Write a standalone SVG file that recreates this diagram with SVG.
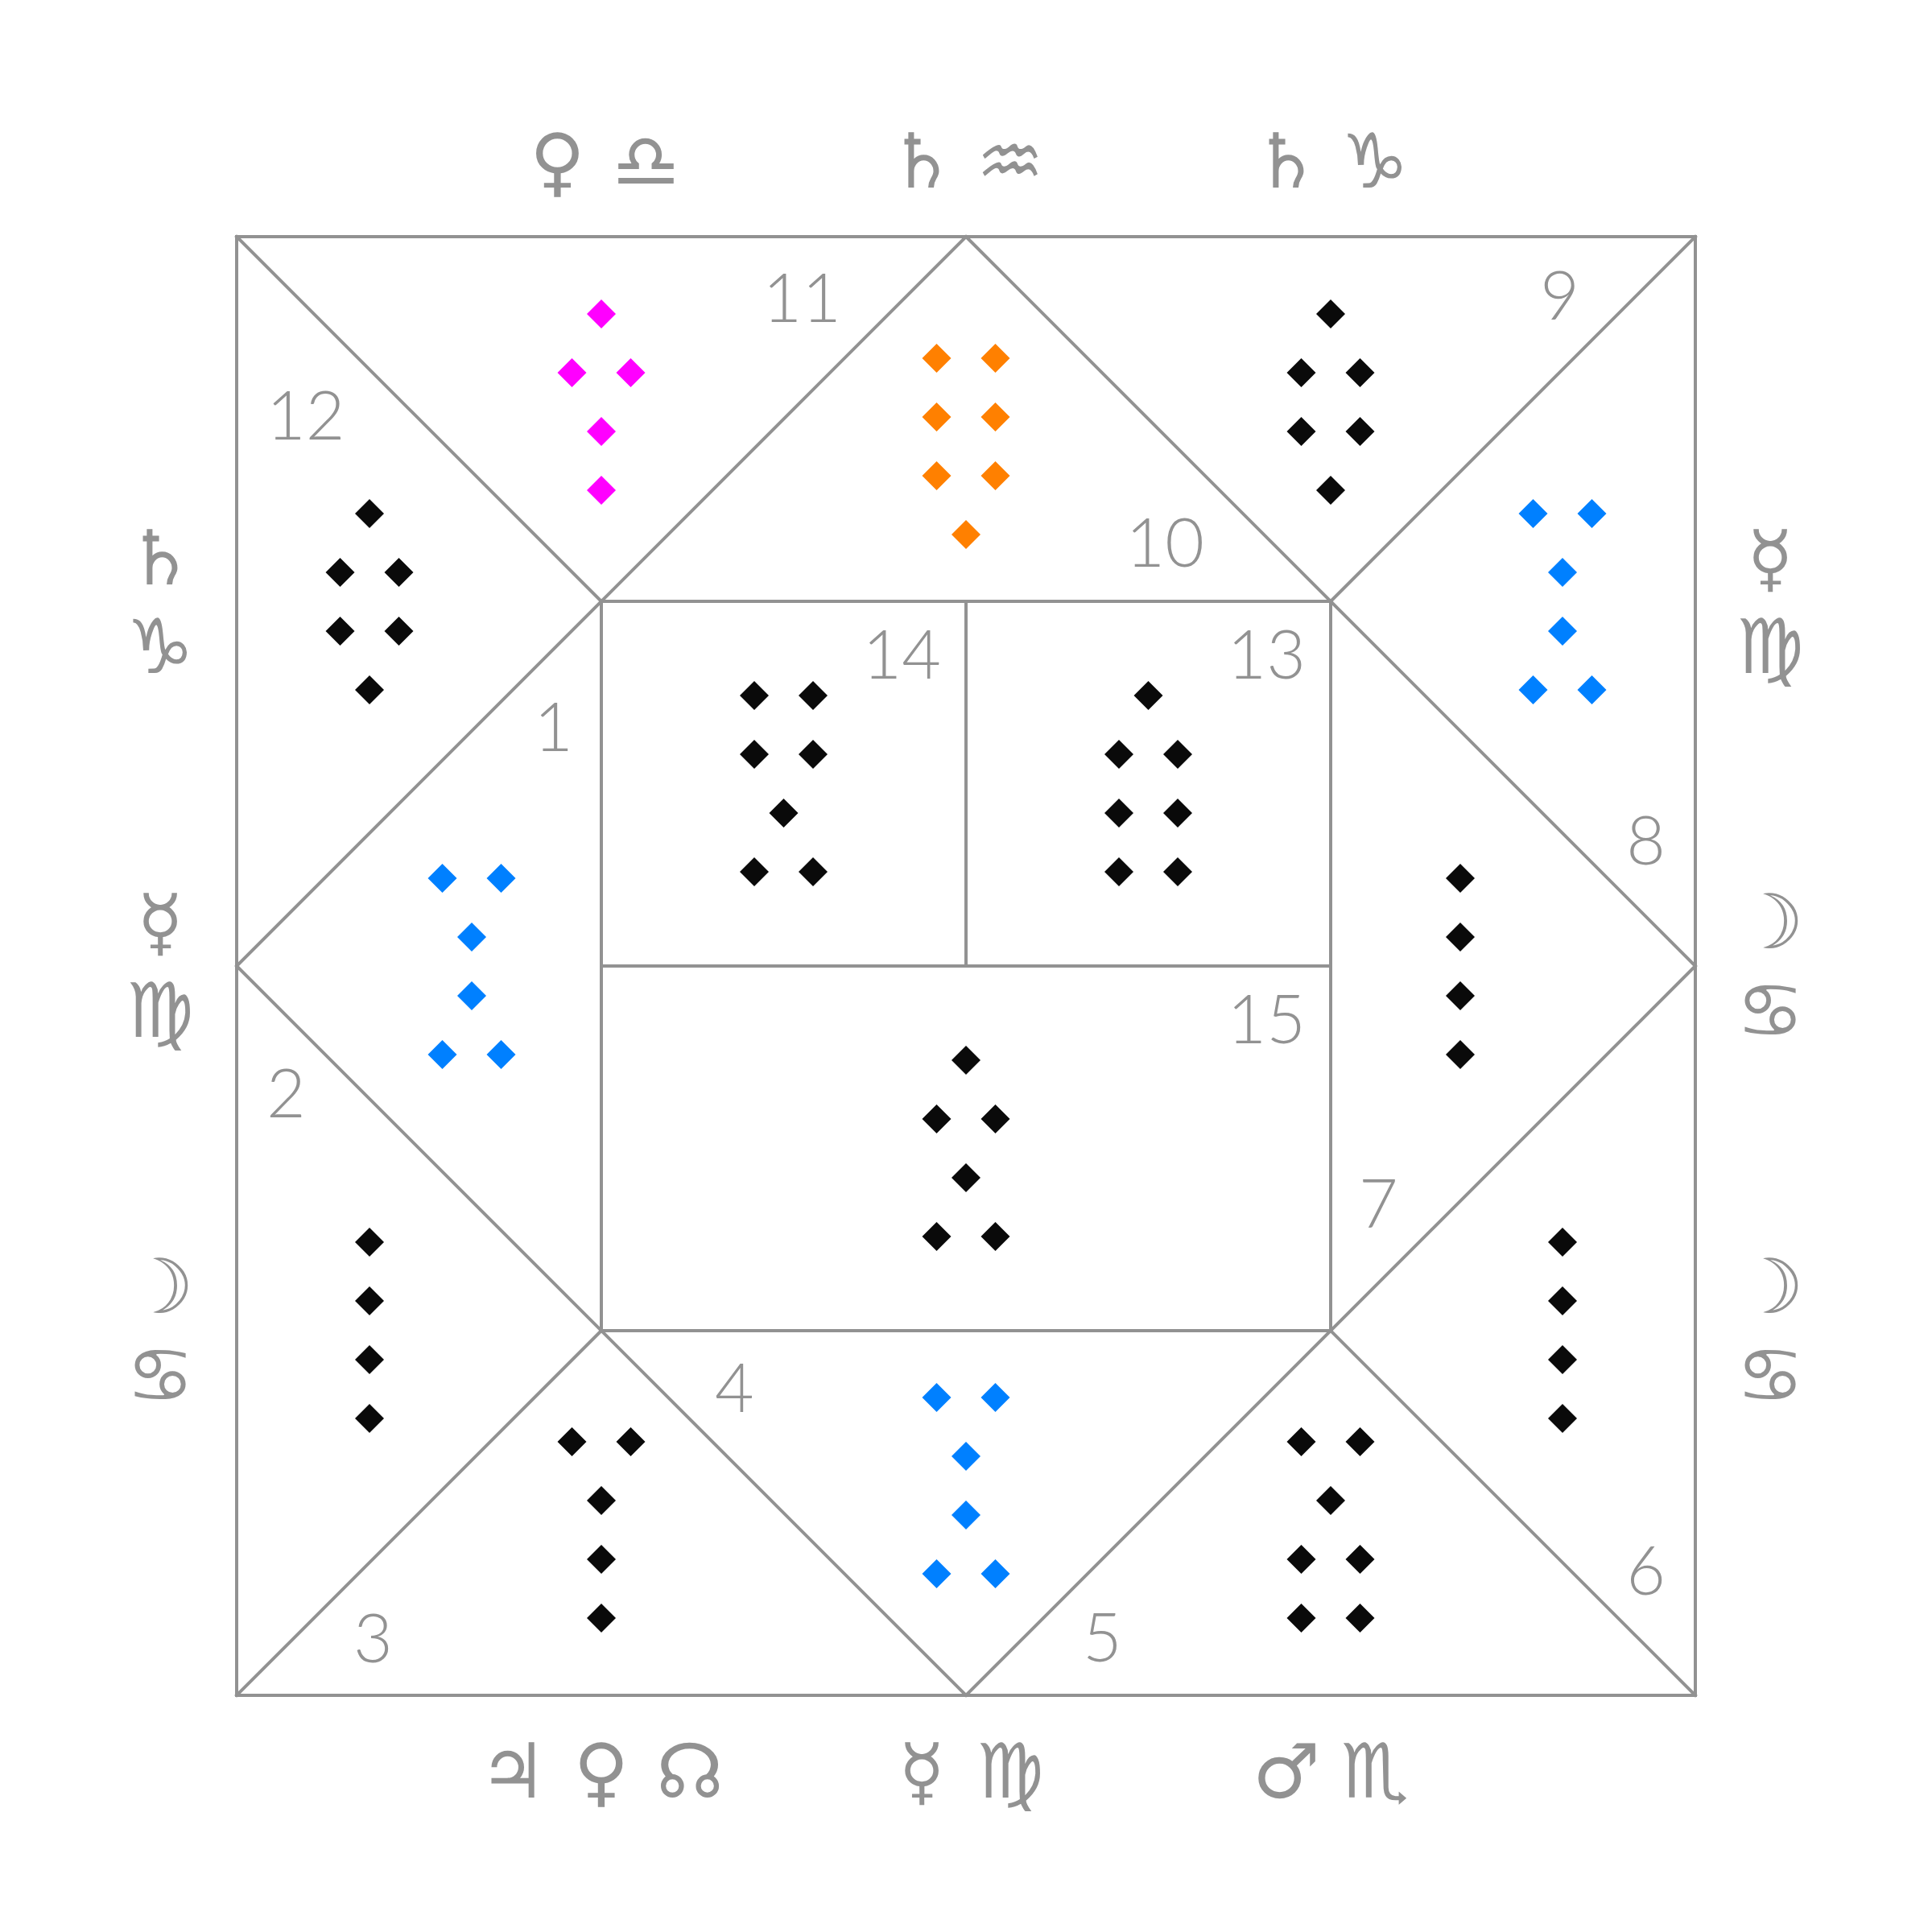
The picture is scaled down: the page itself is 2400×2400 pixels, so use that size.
<svg xmlns="http://www.w3.org/2000/svg" xmlns:xlink="http://www.w3.org/1999/xlink" width="2400" height="2400" viewBox="0 0 2400 2400">
<style>
.ln{stroke:#929292;stroke-width:4;fill:none;stroke-linecap:square}
.num{font-family:Lato,"DejaVu Sans",sans-serif;font-weight:300;font-size:84px;fill:#929292}
.gl{font-family:"DejaVu Sans",sans-serif;font-size:94px;fill:#929292;text-anchor:middle;dominant-baseline:central}
.k{fill:#0a0a0a}.m{fill:#ff00ff}.o{fill:#ff8000}.b{fill:#0080ff}
.e{text-anchor:end}.s{text-anchor:start}
</style>
<defs>
<path id="d" d="M0,-18 L18,0 L0,18 L-18,0 Z"/>
</defs>
<rect width="2400" height="2400" fill="#ffffff"/>
<g id="connectors">
<rect class="ln" x="294" y="294" width="1812" height="1812"/>
<path class="ln" d="M294,294 L747,747 M2106,294 L1653,747 M294,2106 L747,1653 M2106,2106 L1653,1653"/>
<path class="ln" d="M1200,294 L2106,1200 L1200,2106 L294,1200 Z"/>
<rect class="ln" x="747" y="747" width="906" height="906"/>
<path class="ln" d="M1200,747 L1200,1200 M747,1200 L1653,1200"/>
</g>
<g id="house-11" class="m">
<use href="#d" x="747" y="390"/><use href="#d" x="710.5" y="463"/><use href="#d" x="783.5" y="463"/><use href="#d" x="747" y="536"/><use href="#d" x="747" y="609"/>
<text class="num e" x="1045" y="400">11</text>
</g>
<g id="house-10" class="o">
<use href="#d" x="1163.5" y="445"/><use href="#d" x="1236.5" y="445"/><use href="#d" x="1163.5" y="518"/><use href="#d" x="1236.5" y="518"/><use href="#d" x="1163.5" y="591"/><use href="#d" x="1236.5" y="591"/><use href="#d" x="1200" y="664"/>
<text class="num e" x="1496" y="704">10</text>
</g>
<g id="house-9" class="k">
<use href="#d" x="1653" y="390"/><use href="#d" x="1616.5" y="463"/><use href="#d" x="1689.5" y="463"/><use href="#d" x="1616.5" y="536"/><use href="#d" x="1689.5" y="536"/><use href="#d" x="1653" y="609"/>
<text class="num e" x="1962" y="397">9</text>
</g>
<g id="house-12" class="k">
<use href="#d" x="459" y="638"/><use href="#d" x="422.5" y="711"/><use href="#d" x="495.5" y="711"/><use href="#d" x="422.5" y="784"/><use href="#d" x="495.5" y="784"/><use href="#d" x="459" y="857"/>
<text class="num s" x="331" y="546">12</text>
</g>
<g id="house-8" class="b">
<use href="#d" x="1904.5" y="638"/><use href="#d" x="1977.5" y="638"/><use href="#d" x="1941" y="711"/><use href="#d" x="1941" y="784"/><use href="#d" x="1904.5" y="857"/><use href="#d" x="1977.5" y="857"/>
<text class="num e" x="2069" y="1074">8</text>
</g>
<g id="house-1" class="b">
<use href="#d" x="549.5" y="1091"/><use href="#d" x="622.5" y="1091"/><use href="#d" x="586" y="1164"/><use href="#d" x="586" y="1237"/><use href="#d" x="549.5" y="1310"/><use href="#d" x="622.5" y="1310"/>
<text class="num e" x="712" y="933">1</text>
</g>
<g id="house-7" class="k">
<use href="#d" x="1814" y="1091"/><use href="#d" x="1814" y="1164"/><use href="#d" x="1814" y="1237"/><use href="#d" x="1814" y="1310"/>
<text class="num s" x="1688" y="1525">7</text>
</g>
<g id="house-14" class="k">
<use href="#d" x="937" y="864"/><use href="#d" x="1010" y="864"/><use href="#d" x="937" y="937"/><use href="#d" x="1010" y="937"/><use href="#d" x="973.5" y="1010"/><use href="#d" x="937" y="1083"/><use href="#d" x="1010" y="1083"/>
<text class="num e" x="1169" y="843">14</text>
</g>
<g id="house-13" class="k">
<use href="#d" x="1426.5" y="864"/><use href="#d" x="1390" y="937"/><use href="#d" x="1463" y="937"/><use href="#d" x="1390" y="1010"/><use href="#d" x="1463" y="1010"/><use href="#d" x="1390" y="1083"/><use href="#d" x="1463" y="1083"/>
<text class="num e" x="1622" y="843">13</text>
</g>
<g id="house-15" class="k">
<use href="#d" x="1200" y="1317"/><use href="#d" x="1163.5" y="1390"/><use href="#d" x="1236.5" y="1390"/><use href="#d" x="1200" y="1463"/><use href="#d" x="1163.5" y="1536"/><use href="#d" x="1236.5" y="1536"/>
<text class="num e" x="1622" y="1296">15</text>
</g>
<g id="house-2" class="k">
<use href="#d" x="459" y="1543"/><use href="#d" x="459" y="1616"/><use href="#d" x="459" y="1689"/><use href="#d" x="459" y="1762"/>
<text class="num s" x="331" y="1388">2</text>
</g>
<g id="house-6" class="k">
<use href="#d" x="1941" y="1543"/><use href="#d" x="1941" y="1616"/><use href="#d" x="1941" y="1689"/><use href="#d" x="1941" y="1762"/>
<text class="num e" x="2069" y="1981">6</text>
</g>
<g id="house-3" class="k">
<use href="#d" x="710.5" y="1791"/><use href="#d" x="783.5" y="1791"/><use href="#d" x="747" y="1864"/><use href="#d" x="747" y="1937"/><use href="#d" x="747" y="2010"/>
<text class="num s" x="439" y="2065">3</text>
</g>
<g id="house-4" class="b">
<use href="#d" x="1163.5" y="1736"/><use href="#d" x="1236.5" y="1736"/><use href="#d" x="1200" y="1809"/><use href="#d" x="1200" y="1882"/><use href="#d" x="1163.5" y="1955"/><use href="#d" x="1236.5" y="1955"/>
<text class="num s" x="888" y="1754">4</text>
</g>
<g id="house-5" class="k">
<use href="#d" x="1616.5" y="1791"/><use href="#d" x="1689.5" y="1791"/><use href="#d" x="1653" y="1864"/><use href="#d" x="1616.5" y="1937"/><use href="#d" x="1689.5" y="1937"/><use href="#d" x="1616.5" y="2010"/><use href="#d" x="1689.5" y="2010"/>
<text class="num s" x="1345" y="2064">5</text>
</g>
<g id="signs-top">
<text class="gl"><tspan x="692.5" y="200">♀</tspan><tspan x="802.5" y="200">♎&#xFE0E;</tspan></text>
<text class="gl"><tspan x="1145" y="200">♄</tspan><tspan x="1255" y="200">♒&#xFE0E;</tspan></text>
<text class="gl"><tspan x="1598" y="200">♄</tspan><tspan x="1708" y="200">♑&#xFE0E;</tspan></text>
</g>
<g id="signs-bottom">
<text class="gl"><tspan x="637" y="2200">♃</tspan><tspan x="747" y="2200">♀</tspan><tspan x="857" y="2200">☊</tspan></text>
<text class="gl"><tspan x="1145" y="2200">☿</tspan><tspan x="1255" y="2200">♍&#xFE0E;</tspan></text>
<text class="gl"><tspan x="1598" y="2200">♂</tspan><tspan x="1708" y="2200">♏&#xFE0E;</tspan></text>
</g>
<g id="signs-left">
<text class="gl"><tspan x="199" y="692.5">♄</tspan><tspan x="199" y="802.5">♑&#xFE0E;</tspan></text>
<text class="gl"><tspan x="199" y="1145">☿</tspan><tspan x="199" y="1255">♍&#xFE0E;</tspan></text>
<text class="gl"><tspan x="199" y="1598">☽</tspan><tspan x="199" y="1708">♋&#xFE0E;</tspan></text>
</g>
<g id="signs-right">
<text class="gl"><tspan x="2199" y="692.5">☿</tspan><tspan x="2199" y="802.5">♍&#xFE0E;</tspan></text>
<text class="gl"><tspan x="2199" y="1145">☽</tspan><tspan x="2199" y="1255">♋&#xFE0E;</tspan></text>
<text class="gl"><tspan x="2199" y="1598">☽</tspan><tspan x="2199" y="1708">♋&#xFE0E;</tspan></text>
</g>
</svg>
